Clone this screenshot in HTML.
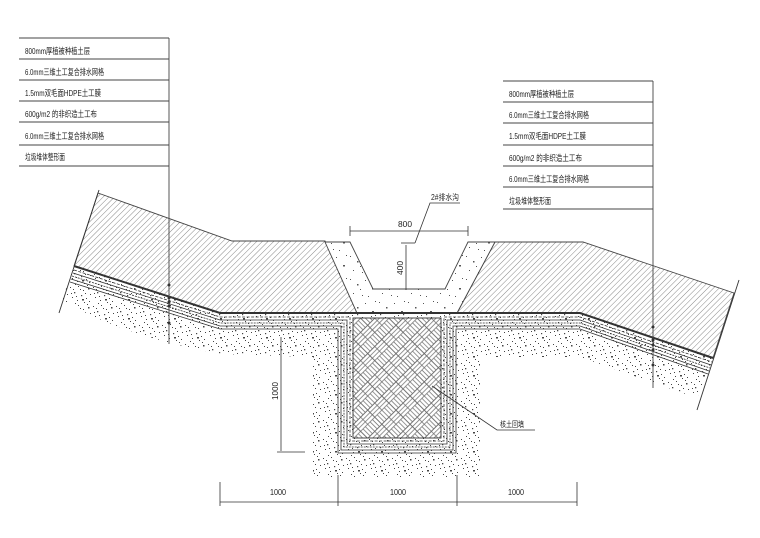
<!DOCTYPE html>
<html><head><meta charset="utf-8"><style>
html,body{margin:0;padding:0;background:#fff}
svg{display:block}
text{font-family:"Liberation Sans","Noto Sans CJK SC",sans-serif;fill:#222}
</style></head><body>
<svg width="760" height="538" viewBox="0 0 760 538" xmlns="http://www.w3.org/2000/svg">
<defs>
<pattern id="hatch" width="4" height="4" patternUnits="userSpaceOnUse" patternTransform="rotate(45)">
<line x1="0" y1="0" x2="0" y2="4" stroke="#555" stroke-width="0.7"/>
</pattern>
<pattern id="speck" width="23" height="19" patternUnits="userSpaceOnUse">
<g fill="#444">
<rect x="1" y="2" width="1" height="1"/><rect x="5" y="7" width="1.3" height="1.3"/><rect x="9" y="1" width="1" height="1"/>
<rect x="14" y="5" width="1" height="1"/><rect x="19" y="3" width="1.5" height="1.5"/><rect x="3" y="12" width="1" height="1"/>
<rect x="8" y="15" width="1" height="1"/><rect x="12" y="10" width="1.2" height="1.2"/><rect x="17" y="13" width="1" height="1"/>
<rect x="21" y="9" width="1" height="1"/><rect x="6" y="18" width="1" height="1"/><rect x="15" y="17" width="1" height="1"/>
<rect x="11" y="4" width="1" height="1"/><rect x="2" y="8" width="1" height="1"/><rect x="20" y="16" width="1" height="1"/>
<rect x="16" y="8" width="1" height="1"/><rect x="7" y="11" width="1" height="1"/><rect x="13" y="14" width="2" height="1.5"/>
<rect x="18" y="0" width="1" height="1"/><rect x="4" y="4" width="1" height="1"/>
</g>
</pattern>
<pattern id="speck2" width="29" height="23" patternUnits="userSpaceOnUse">
<g fill="#555">
<rect x="2" y="3" width="1" height="1"/><rect x="9" y="8" width="1.5" height="1.5"/><rect x="17" y="4" width="1" height="1"/>
<rect x="24" y="12" width="2" height="1.5"/><rect x="5" y="17" width="1" height="1"/><rect x="14" y="19" width="1" height="1"/>
<rect x="20" y="20" width="1" height="1"/><rect x="12" y="13" width="1" height="1"/><rect x="27" y="2" width="1" height="1"/>
</g>
</pattern>
<pattern id="weave" width="20" height="20" patternUnits="userSpaceOnUse" patternTransform="rotate(45)">
<g stroke="#666" stroke-width="0.7" fill="none">
<rect x="0" y="0" width="10" height="10"/><line x1="0" y1="3.3" x2="10" y2="3.3"/><line x1="0" y1="6.6" x2="10" y2="6.6"/>
<rect x="10" y="10" width="10" height="10"/><line x1="13.3" y1="10" x2="13.3" y2="20"/><line x1="16.6" y1="10" x2="16.6" y2="20"/>
<rect x="10" y="0" width="10" height="10"/><line x1="13.3" y1="0" x2="13.3" y2="10"/><line x1="16.6" y1="0" x2="16.6" y2="10"/>
<rect x="0" y="10" width="10" height="10"/><line x1="0" y1="13.3" x2="10" y2="13.3"/><line x1="0" y1="16.6" x2="10" y2="16.6"/>
</g>
</pattern>
</defs>

<path d="M62,300 L74,266 L220,313 L580,313 L713,358 L697,398 L580,357 L480,357 L480,477 L313,477 L313,357 L220,354 Q120,335 62,300 Z" fill="url(#speck)"/>
<path d="M98,193 L232,241 L325,241 L357,313 L220,313 L74,266 Z" fill="url(#hatch)" stroke="#444" stroke-width="0.9"/>
<path d="M495,242 L583,242 L734,293 L713,358 L580,313 L457,313 Z" fill="url(#hatch)" stroke="#444" stroke-width="0.9"/>
<path d="M325,242 L350,242 L373,289 L445,289 L468,242 L495,242 L457,313 L357,313 Z" fill="#fff"/>
<path d="M325,242 L350,242 L373,289 L445,289 L468,242 L495,242 L457,313 L357,313 Z" fill="url(#speck2)" stroke="#444" stroke-width="0.9"/>
<rect x="353" y="318" width="88" height="120" fill="#fff"/>
<rect x="353" y="318" width="88" height="120" fill="url(#weave)" stroke="#333" stroke-width="0.9"/>
<g fill="none" stroke="#333">
<path d="M74,266 L220,313 L580,313 L713,358" stroke-width="2"/>
<path d="M74,270 L220,317 L350,317 L350,441 L444,441 L444,317 L580,317 L712,362" stroke-width="0.8" stroke-dasharray="3,1.5"/>
<path d="M73,273 L220,320 L347,320 L347,444 L447,444 L447,320 L580,320 L711,365" stroke-width="0.8"/>
<path d="M72,276 L220,323 L344,323 L344,447 L450,447 L450,323 L580,323 L710,368" stroke-width="0.8" stroke-dasharray="2,1"/>
<path d="M71,279 L220,326 L341,326 L341,450 L453,450 L453,326 L580,326 L709,371" stroke-width="0.8"/>
<path d="M70,282 L220,329 L338,329 L338,453 L456,453 L456,329 L580,329 L708,374" stroke-width="0.8"/>
</g>
<line x1="99" y1="190" x2="59" y2="313" stroke="#333" stroke-width="0.9"/>
<line x1="739" y1="280" x2="697" y2="410" stroke="#333" stroke-width="0.9"/>

<g stroke="#444" stroke-width="0.9">
<line x1="19" y1="38" x2="169" y2="38"/><line x1="19" y1="59" x2="169" y2="59"/><line x1="19" y1="80" x2="169" y2="80"/>
<line x1="19" y1="101" x2="169" y2="101"/><line x1="19" y1="122" x2="169" y2="122"/><line x1="19" y1="145" x2="169" y2="145"/>
<line x1="19" y1="166" x2="169" y2="166"/><line x1="169" y1="38" x2="169" y2="344"/>
<line x1="503" y1="81" x2="653" y2="81"/><line x1="503" y1="102" x2="653" y2="102"/><line x1="503" y1="123" x2="653" y2="123"/>
<line x1="503" y1="145" x2="653" y2="145"/><line x1="503" y1="166" x2="653" y2="166"/><line x1="503" y1="187" x2="653" y2="187"/>
<line x1="503" y1="209" x2="653" y2="209"/><line x1="653" y1="81" x2="653" y2="388"/>
</g>
<g fill="#333"><circle cx="169" cy="285" r="1.5"/><circle cx="169" cy="298" r="1.5"/><circle cx="169" cy="302" r="1.5"/><circle cx="169" cy="306" r="1.5"/><circle cx="169" cy="323" r="1.5"/>
<circle cx="653" cy="327" r="1.5"/><circle cx="653" cy="340" r="1.5"/><circle cx="653" cy="345" r="1.5"/><circle cx="653" cy="350" r="1.5"/><circle cx="653" cy="365" r="1.5"/></g>
<g font-size="8.5" lengthAdjust="spacingAndGlyphs">
<text x="25" y="54" textLength="65" lengthAdjust="spacingAndGlyphs">800mm厚植被种植土层</text>
<text x="25" y="75" textLength="79" lengthAdjust="spacingAndGlyphs">6.0mm三维土工复合排水网格</text>
<text x="25" y="96" textLength="76" lengthAdjust="spacingAndGlyphs">1.5mm双毛面HDPE土工膜</text>
<text x="25" y="117" textLength="72" lengthAdjust="spacingAndGlyphs">600g/m2 的非织造土工布</text>
<text x="25" y="139" textLength="79" lengthAdjust="spacingAndGlyphs">6.0mm三维土工复合排水网格</text>
<text x="25" y="160" textLength="40" lengthAdjust="spacingAndGlyphs">垃圾堆体整形面</text>
<text x="509" y="97" textLength="65" lengthAdjust="spacingAndGlyphs">800mm厚植被种植土层</text>
<text x="509" y="118" textLength="80" lengthAdjust="spacingAndGlyphs">6.0mm三维土工复合排水网格</text>
<text x="509" y="139" textLength="77" lengthAdjust="spacingAndGlyphs">1.5mm双毛面HDPE土工膜</text>
<text x="509" y="161" textLength="73" lengthAdjust="spacingAndGlyphs">600g/m2 的非织造土工布</text>
<text x="509" y="182" textLength="80" lengthAdjust="spacingAndGlyphs">6.0mm三维土工复合排水网格</text>
<text x="509" y="204" textLength="42" lengthAdjust="spacingAndGlyphs">垃圾堆体整形面</text>
</g>

<g stroke="#333" stroke-width="0.8" fill="none">
<line x1="350" y1="231" x2="468" y2="231"/><line x1="350" y1="226" x2="350" y2="236"/><line x1="468" y1="226" x2="468" y2="236"/>
<line x1="406" y1="245" x2="406" y2="290"/><line x1="401" y1="243" x2="415" y2="243"/>
<polyline points="460,203 430,203 415,243"/>
<line x1="281" y1="337" x2="281" y2="451"/><line x1="277" y1="452" x2="305" y2="452"/>
<line x1="220" y1="502" x2="577" y2="502"/>
<line x1="220" y1="482" x2="220" y2="506"/><line x1="338" y1="475" x2="338" y2="506"/><line x1="457" y1="475" x2="457" y2="506"/><line x1="577" y1="482" x2="577" y2="506"/>
<polyline points="432,386 497,430 535,430"/>
</g>
<g font-size="8">
<text x="398" y="227" textLength="14" lengthAdjust="spacingAndGlyphs">800</text>
<text x="431" y="200" textLength="28" lengthAdjust="spacingAndGlyphs">2#排水沟</text>
<text x="500" y="427" textLength="24" lengthAdjust="spacingAndGlyphs">核土回填</text>
<text x="270" y="495" textLength="16" lengthAdjust="spacingAndGlyphs">1000</text>
<text x="390" y="495" textLength="16" lengthAdjust="spacingAndGlyphs">1000</text>
<text x="508" y="495" textLength="16" lengthAdjust="spacingAndGlyphs">1000</text>
<text transform="translate(403,275) rotate(-90)" textLength="14" lengthAdjust="spacingAndGlyphs">400</text>
<text transform="translate(278,400) rotate(-90)" textLength="18" lengthAdjust="spacingAndGlyphs">1000</text>
</g>
</svg>
</body></html>
